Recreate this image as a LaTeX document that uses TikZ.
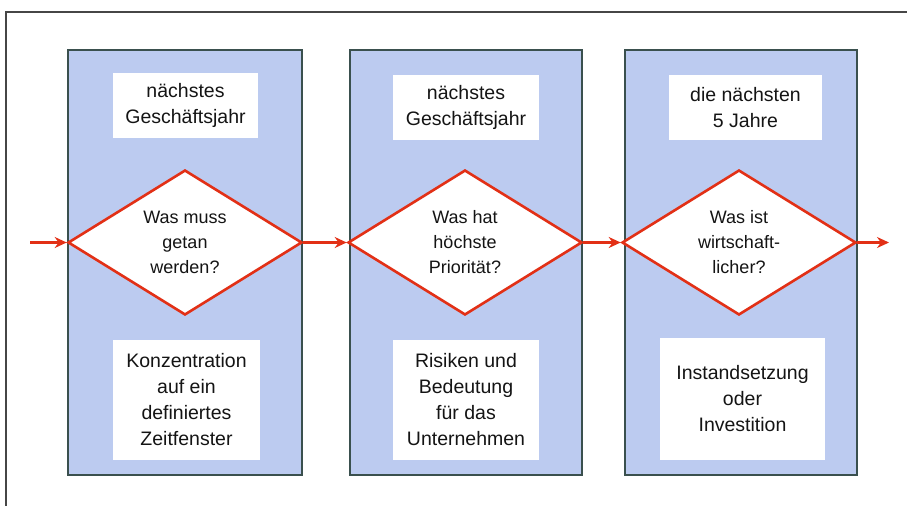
\documentclass[tikz,border=0pt]{standalone}
\usepackage{fontspec}
\setmainfont{Liberation Sans}
\usetikzlibrary{shapes.geometric,arrows.meta}
\definecolor{panelblue}{RGB}{188,203,240}
\definecolor{paneledge}{RGB}{58,80,78}
\definecolor{flowred}{RGB}{226,48,22}
\definecolor{framegray}{RGB}{70,70,70}
\definecolor{txt}{RGB}{20,20,20}
\tikzset{
  panel/.style={draw=paneledge, line width=1.8pt, fill=panelblue, rectangle, minimum height=425pt, inner sep=0pt},
  textbox/.style={fill=white, rectangle, inner sep=0pt, align=center, text=txt, font=\fontsize{19.5}{26}\selectfont},
  decision/.style={diamond, draw=flowred, line width=2.6pt, fill=white, aspect=1.6, minimum width=234pt, minimum height=145pt, inner sep=0pt, align=center, text=txt, font=\fontsize{18}{25}\selectfont},
  flow/.style={draw=flowred, line width=3pt, -{Stealth[length=12pt,width=11pt]}},
}
\begin{document}
\begin{tikzpicture}[x=1pt,y=-1pt]
\useasboundingbox (0,0) rectangle (907,506);
\draw[framegray, line width=1.4pt] (907,12) -- (6,12) -- (6,506);
% panels
\node[panel, minimum width=234pt] (p1) at (185,262.5) {};
\node[panel, minimum width=232pt] (p2) at (466,262.5) {};
\node[panel, minimum width=232pt] (p3) at (741,262.5) {};
% top boxes
\node[textbox, minimum width=145pt, minimum height=65pt] (t1) at (185.5,105.5) {nächstes\\Geschäftsjahr};
\node[textbox, minimum width=146pt, minimum height=65pt] (t2) at (466,107.5) {nächstes\\Geschäftsjahr};
\node[textbox, minimum width=153pt, minimum height=65pt] (t3) at (745.5,107.5) {die nächsten\\5 Jahre};
% bottom boxes
\node[textbox, minimum width=147pt, minimum height=120pt] (b1) at (186.5,400) {Konzentration\\auf ein\\definiertes\\Zeitfenster};
\node[textbox, minimum width=146pt, minimum height=120pt] (b2) at (466,400) {Risiken und\\Bedeutung\\für das\\Unternehmen};
\node[textbox, minimum width=165pt, minimum height=122pt] (b3) at (742.5,399) {Instandsetzung\\oder\\Investition};
% decisions
\node[decision] (d1) at (185,242.5) {Was muss\\getan\\werden?};
\node[decision] (d2) at (465,242.5) {Was hat\\höchste\\Priorität?};
\node[decision] (d3) at (739,242.5) {Was ist\\wirtschaft-\\licher?};
% connectors
\coordinate (in) at (30,242.5);
\coordinate (out) at (889,242.5);
\draw[flow] (in) -- (d1.west);
\draw[flow] (d1.east) -- (d2.west);
\draw[flow] (d2.east) -- (d3.west);
\draw[flow] (d3.east) -- (out);
\end{tikzpicture}
\end{document}
